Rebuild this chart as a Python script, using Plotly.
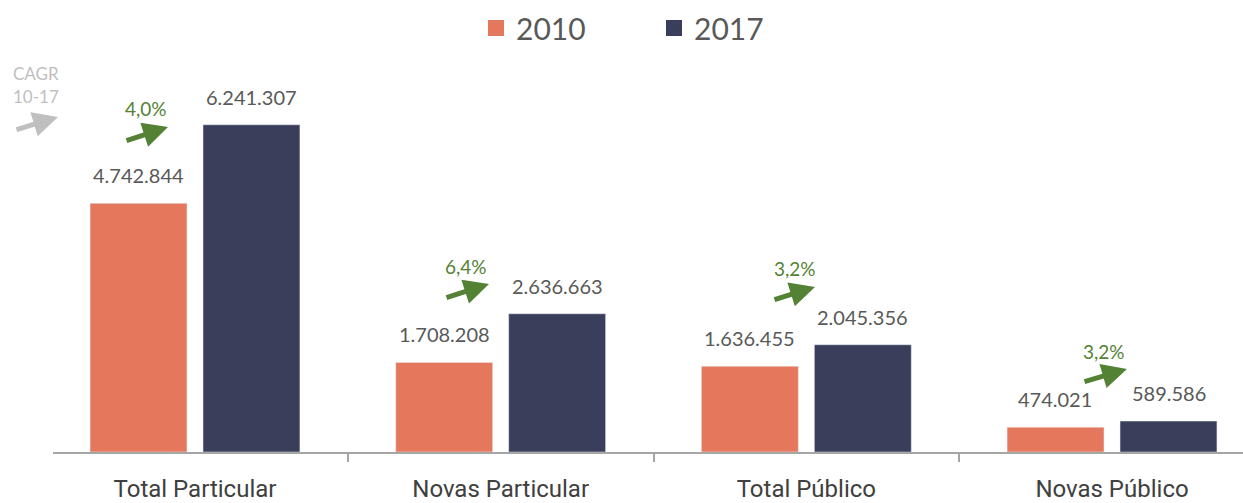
import plotly.graph_objects as go

categories = ["Total Particular", "Novas Particular", "Total Público", "Novas Público"]
values_2010 = [4742844, 1708208, 1636455, 474021]
values_2017 = [6241307, 2636663, 2045356, 589586]
cagr_labels = ["4,0%", "6,4%", "3,2%", "3,2%"]

C2010 = "#E5785C"
C2017 = "#3A3E5A"
GREEN = "#548235"
GREY_TXT = "#595959"
LIGHT = "#BFBFBF"
FONT = "Lato"

W, H = 1243, 503
ML, MR, MT, MB = 53, 0, 85, 51
PW, PH = W - ML - MR, H - MT - MB


def px(x):
    return (x - ML) / PW


def py(y):
    return (H - MB - y) / PH


def fmt(v):
    return f"{v:,}".replace(",", ".")


fig = go.Figure()
fig.add_trace(go.Bar(x=categories, y=values_2010, name="2010", marker_color=C2010,
                     showlegend=False))
fig.add_trace(go.Bar(x=categories, y=values_2017, name="2017", marker_color=C2017,
                     showlegend=False))
# legend entries
for nm, col in [("2010", C2010), ("2017", C2017)]:
    fig.add_trace(go.Scatter(x=[None], y=[None], mode="markers", name=nm,
                             marker=dict(symbol="square", size=17, color=col)))

annotations = []
off = 0.185
for i, c in enumerate(categories):
    for v, d in [(values_2010[i], -off), (values_2017[i], off)]:
        annotations.append(dict(x=i + d, y=v, xref="x", yref="y", text=fmt(v),
                                showarrow=False, yshift=28, yanchor="middle",
                                font=dict(family=FONT, size=20, color=GREY_TXT)))

# CAGR arrows (head, tail, text position in pixels)
arrow_px = [
    ((168, 127), (125, 141), (146, 108)),
    ((489, 284), (445, 298), (466, 266)),
    ((815, 287), (773, 300), (795, 268)),
    ((1127, 369), (1083, 382), (1104, 351)),
]
for (hx, hy), (tx, ty), (lx, ly) in arrow_px:
    annotations.append(dict(x=px(hx), y=py(hy), xref="paper", yref="paper", text="",
                            showarrow=True, ax=tx - hx, ay=ty - hy, axref="pixel", ayref="pixel",
                            arrowhead=2, arrowsize=1, arrowwidth=5, arrowcolor=GREEN,
                            standoff=0, startstandoff=0))
for (_, _, (lx, ly)), lab in zip(arrow_px, cagr_labels):
    annotations.append(dict(x=px(lx), y=py(ly), xref="paper", yref="paper", text=lab,
                            showarrow=False, xanchor="center", yanchor="middle",
                            font=dict(family=FONT, size=19, color=GREEN)))

# CAGR legend note
for txt, yy in [("CAGR", 74), ("10-17", 96)]:
    annotations.append(dict(x=px(36), y=py(yy), xref="paper", yref="paper",
                            text=txt, showarrow=False, xanchor="center", yanchor="middle",
                            borderpad=0,
                            font=dict(family=FONT, size=17, color=LIGHT)))
annotations.append(dict(x=px(58), y=py(117), xref="paper", yref="paper", text="",
                        showarrow=True, ax=15 - 58, ay=130 - 117, axref="pixel", ayref="pixel",
                        arrowhead=2, arrowsize=1, arrowwidth=5, arrowcolor=LIGHT,
                        standoff=0, startstandoff=0))

shapes = [dict(type="line", xref="paper", yref="y", x0=0, x1=0, y0=0, y1=-8,
               ysizemode="pixel", yanchor=0, line=dict(color="#A6A6A6", width=1.5))]

fig.update_layout(
    width=W, height=H,
    margin=dict(l=ML, r=MR, t=MT, b=MB, autoexpand=False),
    paper_bgcolor="white", plot_bgcolor="white",
    barmode="group", bargap=0.261, bargroupgap=0.142,
    font=dict(family=FONT, color=GREY_TXT),
    legend=dict(orientation="h", x=px(654), xanchor="center", y=py(28), yanchor="middle",
                font=dict(family=FONT, size=30, color=GREY_TXT), entrywidth=133,
                itemsizing="trace"),
    annotations=annotations,
    shapes=shapes,
    xaxis=dict(showline=True, linecolor="#A6A6A6", linewidth=1.5, ticks="outside",
               tickson="boundaries", ticklen=8, tickcolor="#A6A6A6", tickwidth=1.5,
               range=[-0.4645, 3.4285], ticklabelstandoff=14, automargin=False,
               tickfont=dict(family="Roboto", size=24, color="#404040"),
               showgrid=False),
    yaxis=dict(range=[0, 7000000], visible=False, showgrid=False, automargin=False),
)

fig.write_html("out.html", config={"displayModeBar": False},
               post_script="document.body.style.margin='0';")
